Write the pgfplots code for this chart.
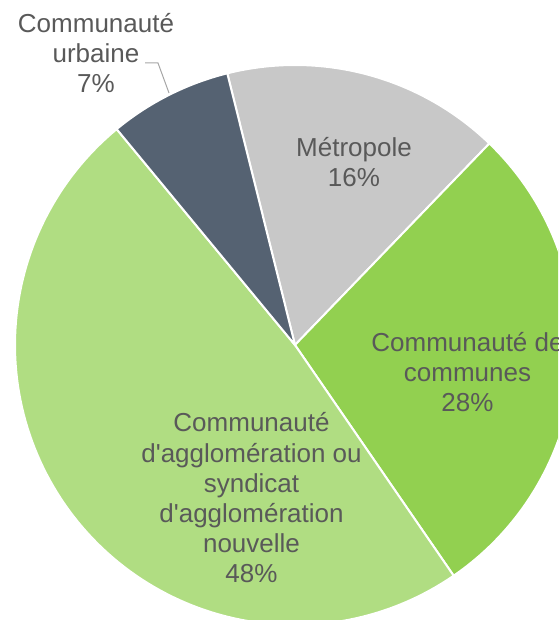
\documentclass[border=0pt]{standalone}
\usepackage{pgfplots}
\usepackage{pgfplotstable}
\pgfplotsset{compat=1.18}
\usepackage{fontspec}
\setmainfont{Liberation Sans}[Ligatures=TeXOff]

\definecolor{cMetro}{HTML}{C8C8C8}
\definecolor{cCC}{HTML}{92D050}
\definecolor{cCA}{HTML}{B0DD82}
\definecolor{cCU}{HTML}{556272}
\definecolor{txt}{HTML}{595959}
\definecolor{lead}{HTML}{A6A6A6}

% share of each type (percent), clockwise from the Metropole slice
\pgfplotstableread{
name  value
Metro 16.1
CC    28.2
CA    48.6
CU    7.1
}\sharetable

\newcommand{\lbl}[3]{\node[anchor=base,text=txt,inner sep=0pt] at (axis cs:#1,#2) {#3};}

\begin{document}
\begin{tikzpicture}
\begin{axis}[
  width=558pt, height=620pt, scale only axis,
  xmin=0, xmax=558, ymin=0, ymax=620,
  y dir=reverse,
  hide axis,
  clip=true,
]
\coordinate (sw) at (rel axis cs:0,0);
\coordinate (ne) at (rel axis cs:1,1);
% start angle: -14 deg from top, clockwise (y axis points down)
\pgfmathsetmacro{\a}{-104}
\pgfplotsforeachungrouped \i/\c in {0/cMetro,1/cCC,2/cCA,3/cCU}{
  \pgfplotstablegetelem{\i}{value}\of\sharetable
  \pgfmathsetmacro{\b}{\a+3.6*\pgfplotsretval}
  \edef\temp{\noexpand\addplot[fill=\c, draw=white, line width=2pt, domain=\a:\b, samples=120]
    ({295+280*cos(x)},{345+280*sin(x)}) -- (axis cs:295,345) -- cycle;}
  \temp
  \global\let\a\b
}
\draw[lead, line width=1pt] (axis cs:145,63) -- (axis cs:158,63) -- (axis cs:169,93);
\fontsize{26}{30}\selectfont
\lbl{96}{33}{Communauté}
\lbl{96}{63}{urbaine}
\lbl{96}{93}{7\%}
\lbl{354}{157}{Métropole}
\lbl{354}{187}{16\%}
\lbl{467.5}{351}{Communauté de}
\lbl{467.5}{381}{communes}
\lbl{467.5}{411}{28\%}
\lbl{251.5}{431}{Communauté}
\lbl{251.5}{462}{d'agglomération ou}
\lbl{251.5}{492}{syndicat}
\lbl{251.5}{522}{d'agglomération}
\lbl{251.5}{552}{nouvelle}
\lbl{251.5}{582}{48\%}
\end{axis}
\pgfresetboundingbox
\path[use as bounding box] (sw) rectangle (ne);
\end{tikzpicture}
\end{document}
